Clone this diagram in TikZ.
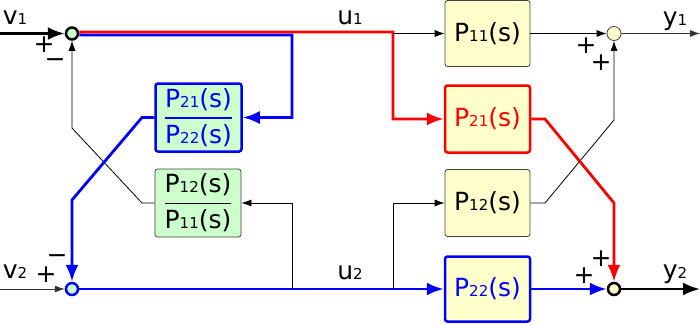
\documentclass[tikz,border=0pt]{standalone}
\usepackage{fontspec}
\setmainfont{DejaVu Sans}
\usepackage{amsmath}
\usetikzlibrary{arrows.meta}
\definecolor{gfill}{HTML}{CCFFCC}
\definecolor{yfill}{HTML}{FFFFCC}
\newcommand\sbs[1]{{\fontsize{15}{15}\selectfont #1}}
\newcommand\bigtxt{\fontsize{25}{28}\selectfont}
\newcommand\frc[2]{$\genfrac{}{}{1.8pt}{0}{\mbox{#1}}{\mbox{#2}}$}
\begin{document}
\begin{tikzpicture}[x=1pt,y=-1pt,
  box/.style={draw=black!75, line width=0.8pt, rounded corners=2.5pt, fill=yfill,
    minimum width=85pt, minimum height=66pt, inner sep=0pt, font=\bigtxt},
  fbox/.style={box, fill=gfill, minimum width=86pt, minimum height=68pt},
  thk/.style={line width=2.5pt},
  thinln/.style={line width=0.8pt, -{Latex[length=10pt,width=7pt]}},
  thickln/.style={line width=2.8pt, -{Latex[length=17pt,width=13pt]}},
  lbl/.style={font=\bigtxt, inner sep=0pt, anchor=base},
  sgn/.style={font=\bigtxt, inner sep=0pt},
  jn/.style={circle, inner sep=0pt, minimum size=12pt, line width=2.5pt}
]
\useasboundingbox (0,0) rectangle (700,324);

% blocks
\node[box] (P11) at (487.5,33.5) {P\sbs{11}(s)};
\node[box, draw=red, thk, text=red, minimum height=67pt] (P21) at (487.5,119) {P\sbs{21}(s)};
\node[box, minimum height=67pt] (P12) at (487.5,203) {P\sbs{12}(s)};
\node[box, draw=blue, thk, text=blue, minimum height=65pt] (P22) at (487.5,289) {P\sbs{22}(s)};
\node[fbox, draw=blue, thk, text=blue] (F1) at (198.5,117.5) {\frc{P\sbs{21}(s)}{P\sbs{22}(s)}};
\node[fbox] (F2) at (198,203) {\frc{P\sbs{12}(s)}{P\sbs{11}(s)}};

% junctions
\node[jn, draw=black, fill=gfill] (J1) at (72,33.5) {};
\node[jn, draw=blue, fill=gfill] (J2) at (72,289) {};
\node[jn, draw=black!75, fill=yfill, line width=0.8pt, minimum size=14pt] (J3) at (614,33.5) {};
\node[jn, draw=black, fill=yfill] (J4) at (614,289) {};

% inputs / outputs
\coordinate (in1) at (0,33.5);
\coordinate (in2) at (0,289);
\coordinate (out1) at (700,33.5);
\coordinate (out2) at (700,289);
\draw[thickln] (in1) -- (J1);
\draw[thinln, black!80] (in2) -- (J2);
\draw[thinln, black!80] (J3) -- (out1);
\draw[thickln] (J4) -- (out2);

% top branch
\coordinate (bc) at (292,35);
\coordinate (rc) at (393,32);
\draw[thickln, blue] ([yshift=-1.4pt]J1.east) -- (bc) |- (F1.east);
\draw[thickln, red] ([yshift=1.4pt]J1.east) -- (rc) |- (P21.west);
\draw[thinln] (393,33.5) -- (P11.west);

% feedback paths on the left
\draw[thinln] (F2.west) -- (142,203) -- (72,128) -- (J1.south);
\draw[thickln, blue] (F1.west) -- (142,117.5) -- (72,200) -- (J2.north);

% bottom branch
\draw[thickln, blue] (J2.east) -- (P22.west);
\draw[thinln] (292,289) |- (F2.east);
\draw[thinln] (393,289) |- (P12.west);

% right side
\draw[thinln] (P11.east) -- (J3.west);
\draw[thinln] (P12.east) -- (545,203) -- (614,120) -- (J3.south);
\draw[thickln, red] (P21.east) -- (545,119) -- (614,203) -- (J4.north);
\draw[thickln, blue] (P22.east) -- (J4.west);

% labels
\node[lbl] at (15,24) {v\sbs{1}};
\node[lbl] at (15,278) {v\sbs{2}};
\node[lbl] at (350,24) {u\sbs{1}};
\node[lbl] at (350,279) {u\sbs{2}};
\node[lbl] at (675,25) {y\sbs{1}};
\node[lbl] at (675,278) {y\sbs{2}};

% signs
\node[sgn] at (44,45) {+};
\node[sgn] at (55,63) {−};
\node[sgn] at (46,275) {+};
\node[sgn] at (57,259) {−};
\node[sgn] at (586,46) {+};
\node[sgn] at (601,63) {+};
\node[sgn] at (584,276) {+};
\node[sgn] at (601,259) {+};
\end{tikzpicture}
\end{document}
